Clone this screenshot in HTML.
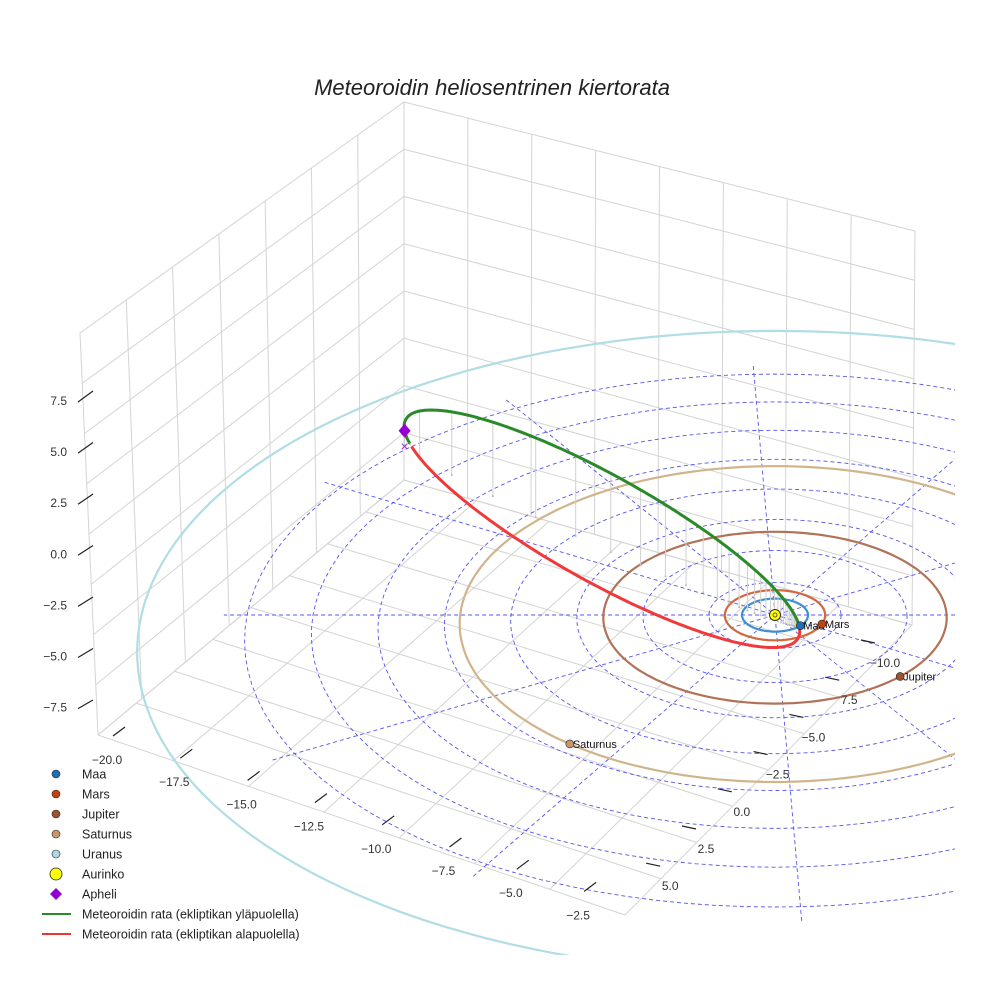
<!DOCTYPE html>
<html><head><meta charset="utf-8"><style>
body{margin:0;background:#fff}
svg text{font-family:"Liberation Sans",sans-serif}
</style></head><body>
<svg id="chart" width="984" height="984" viewBox="0 0 984 984" xmlns="http://www.w3.org/2000/svg">
<rect width="984" height="984" fill="#fff"/>
<text x="492" y="95" text-anchor="middle" font-size="22" font-style="italic" fill="#222">Meteoroidin heliosentrinen kiertorata</text>
<defs><clipPath id="plotclip"><rect x="0" y="0" width="955" height="955"/></clipPath></defs>
<g id="grid"></g>
<g id="plot" clip-path="url(#plotclip)"></g>
<g id="ticks"></g>
<g id="legend"></g>
</svg>
<script>
// ---- data ----
const planetNames = ["Maa","Mars","Jupiter","Saturnus","Uranus"];
const planetRadii = [1.0, 1.52, 5.2, 9.54, 19.2];
const planetAngles = [40, 21, 44.5, 128.5, 62];
const planetColors = ["#1f6fb4","#c1440e","#a0522d","#c8966a","#add8e6"];
const orbitColors = ["#3d8fd0","#d2693c","#b07358","#d2b48c","#b0dde6"];
const ringRadii = [2,4,6,8,10,12,14,16];
const spokeAngles = [0,30.5,58,87.5,120,150];
const meteorAphelion = 16.3;
const meteorPerihelion = 1.0;
const perihelionDir = [0.735,0.678,-0.046];
const minorDir = [-0.1,0.108,0.99];
const zTicks = ["7.5","5.0","2.5","0.0","\u22122.5","\u22125.0","\u22127.5"];
const xTicks = ["\u221220.0","\u221217.5","\u221215.0","\u221212.5","\u221210.0","\u22127.5","\u22125.0","\u22122.5"];
const yTicks = ["\u221210.0","7.5","\u22125.0","\u22122.5","0.0","2.5","5.0"];
const legendLabels = ["Maa","Mars","Jupiter","Saturnus","Uranus","Aurinko","Apheli","Meteoroidin rata (ekliptikan yläpuolella)","Meteoroidin rata (ekliptikan alapuolella)"];

const NS="http://www.w3.org/2000/svg";
function mk(tag,attrs,parent){const e=document.createElementNS(NS,tag);for(const k in attrs)e.setAttribute(k,attrs[k]);parent.appendChild(e);return e;}
function proj(X,Y,Z){const s=1/(1-0.006*Y);return [775+33*X*s, 615+16.5*Y*s-19*Z*s];}
function pts(a){return a.map(p=>p[0].toFixed(1)+","+p[1].toFixed(1)).join(" ");}

// ---- grid box ----
const grid=document.getElementById('grid');
const TL=[80,333],TB=[404,102],TR=[915,231],BL=[98,735],BB=[404,480],BR=[912,625],FB=[625,915];
function lerp(a,b,t){return [a[0]+(b[0]-a[0])*t,a[1]+(b[1]-a[1])*t];}
function quadLines(p00,p10,p11,p01,n,m){
  for(let i=0;i<=n;i++){const t=i/n;const a=lerp(p00,p10,t),b=lerp(p01,p11,t);
    const l=mk('line',{x1:a[0],y1:a[1],x2:b[0],y2:b[1],stroke:'#d4d4d4','stroke-width':1},grid);
    }
  for(let j=0;j<=m;j++){const t=j/m;const a=lerp(p00,p01,t),b=lerp(p10,p11,t);
    const l=mk('line',{x1:a[0],y1:a[1],x2:b[0],y2:b[1],stroke:'#d4d4d4','stroke-width':1},grid);
    }
}
quadLines(TL,TB,BB,BL,7,8);
quadLines(TB,TR,BR,BB,8,8);
quadLines(BL,BB,BR,FB,8,7);

// ---- plot ----
const plot=document.getElementById('plot');
ringRadii.forEach(r=>{const a=[];for(let t=0;t<=360;t+=3){const q=t*Math.PI/180;a.push(proj(r*Math.cos(q),r*Math.sin(q),0));}
  const e=mk('polyline',{points:pts(a),fill:'none',stroke:'#5555ee','stroke-width':0.9,'stroke-dasharray':'4,3'},plot);
  });
spokeAngles.forEach(d=>{const q=d*Math.PI/180,R=16.7;const a=proj(R*Math.cos(q),R*Math.sin(q),0),b=proj(-R*Math.cos(q),-R*Math.sin(q),0);
  const e=mk('line',{x1:a[0],y1:a[1],x2:b[0],y2:b[1],stroke:'#5555ee','stroke-width':0.9,'stroke-dasharray':'4,3'},plot);
  });
planetRadii.forEach((r,i)=>{const a=[];for(let t=0;t<=360;t+=2){const q=t*Math.PI/180;a.push(proj(r*Math.cos(q),r*Math.sin(q),0));}
  const e=mk('polyline',{points:pts(a),fill:'none',stroke:orbitColors[i],'stroke-width':2.2},plot);
  });
// meteoroid orbit
function norm(v){const l=Math.hypot(v[0],v[1],v[2]);return v.map(x=>x/l);}
const P=norm(perihelionDir),W=norm(minorDir);
const aAx=(meteorAphelion+meteorPerihelion)/2, ecc=(meteorAphelion-meteorPerihelion)/(meteorAphelion+meteorPerihelion);
function orbitPt(nu){const q=nu*Math.PI/180;const r=aAx*(1-ecc*ecc)/(1+ecc*Math.cos(q));
  return [0,1,2].map(k=>r*(Math.cos(q)*P[k]+Math.sin(q)*W[k]));}
const up=[],down=[];
for(let nu=-180;nu<=180;nu+=0.5){const p=orbitPt(nu);(p[2]>=0?up:down).push({p,nu});}
const upSorted=up.slice().sort((a,b)=>((a.nu+360)%360)-((b.nu+360)%360));
const downSorted=down.slice().sort((a,b)=>a.nu-b.nu);
upSorted.forEach((o,i)=>{if(i%10!==0)return;const a=proj(...o.p),b=proj(o.p[0],o.p[1],0);
  const l=mk('line',{x1:a[0],y1:a[1],x2:b[0],y2:b[1],stroke:'#d0d0d0','stroke-width':1},plot);
  
  const d=mk('circle',{cx:b[0],cy:b[1],r:1,fill:'#bbb'},plot);
  });
let g=mk('polyline',{points:pts(upSorted.map(o=>proj(...o.p))),fill:'none',stroke:'#2a8a2a','stroke-width':3,'stroke-linejoin':'round'},plot);

let rd=mk('polyline',{points:pts(downSorted.map(o=>proj(...o.p))),fill:'none',stroke:'#f03a3a','stroke-width':3,'stroke-linejoin':'round'},plot);

// aphelion
const aph=orbitPt(180),aS=proj(...aph);
const xm=mk('text',{x:aS[0],y:aS[1]+20,'text-anchor':'middle','font-size':14,fill:'#9b30d0'},plot);xm.textContent='\u00d7';

const dm=mk('polygon',{points:`${aS[0]},${aS[1]-7} ${aS[0]+6},${aS[1]} ${aS[0]},${aS[1]+7} ${aS[0]-6},${aS[1]}`,fill:'#9400d3'},plot);

// sun
const sc=proj(0,0,0);
let s1=mk('circle',{cx:sc[0],cy:sc[1],r:5.5,fill:'#ffff00',stroke:'#333','stroke-width':1},plot);

mk('circle',{cx:sc[0],cy:sc[1],r:2,fill:'none',stroke:'#333','stroke-width':0.8},plot);
planetRadii.forEach((r,i)=>{const q=planetAngles[i]*Math.PI/180;const p=proj(r*Math.cos(q),r*Math.sin(q),0);
  const c=mk('circle',{cx:p[0],cy:p[1],r:4,fill:planetColors[i],stroke:'#222','stroke-width':0.6},plot);
  
  const t=mk('text',{x:p[0]+3,y:p[1]+4,'font-size':11,fill:'#111'},plot);t.textContent=planetNames[i];
  });

// ---- ticks ----
const tk=document.getElementById('ticks');
zTicks.forEach((s,i)=>{const y=400+i*51.1;
  const t=mk('text',{x:67,y:y+5,'text-anchor':'end','font-size':12,fill:'#333'},tk);t.textContent=s;
  
  mk('line',{x1:78,y1:y+2,x2:93,y2:y-9+i*0.4,stroke:'#222','stroke-width':1.2},tk);});
xTicks.forEach((s,i)=>{const x=107+i*67.3,y=760+i*22.2;
  const t=mk('text',{x:x,y:y+4,'text-anchor':'middle','font-size':12,fill:'#333'},tk);t.textContent=s;
  
  mk('line',{x1:x+6,y1:y-24,x2:x+18,y2:y-33,stroke:'#222','stroke-width':1.2},tk);});
yTicks.forEach((s,i)=>{const x=885-i*35.8,y=663+i*37.2;
  const t=mk('text',{x:x,y:y+4,'text-anchor':'middle','font-size':12,fill:'#333'},tk);t.textContent=s;
  
  mk('line',{x1:x-24,y1:y-23,x2:x-10,y2:y-20,stroke:'#222','stroke-width':1.2},tk);});

// ---- legend ----
const lg=document.getElementById('legend');
const legendMarkers=["#1f6fb4","#c1440e","#a0522d","#c8966a","#add8e6"];
legendLabels.forEach((s,i)=>{const y=774+i*20;
  if(i<5){mk('circle',{cx:56,cy:y,r:4,fill:legendMarkers[i],stroke:'#222','stroke-width':0.6},lg);}
  else if(i===5){mk('circle',{cx:56,cy:y,r:6,fill:'#ffff00',stroke:'#222','stroke-width':0.8},lg);}
  else if(i===6){mk('polygon',{points:`56,${y-6} 62,${y} 56,${y+6} 50,${y}`,fill:'#9400d3'},lg);}
  else {mk('line',{x1:42,y1:y,x2:71,y2:y,stroke:i===7?'#2a8a2a':'#e33',"stroke-width":2},lg);}
  const t=mk('text',{x:82,y:y+4.5,'font-size':12.5,fill:'#222'},lg);t.textContent=s;
  });
</script>
</body></html>
